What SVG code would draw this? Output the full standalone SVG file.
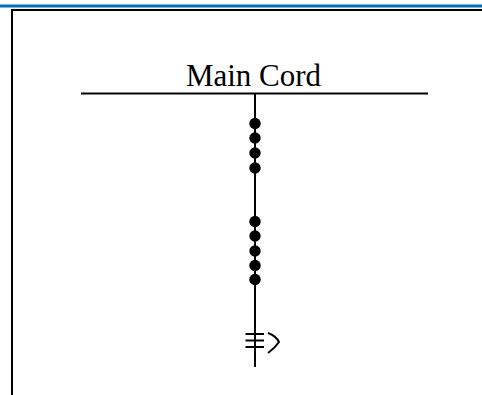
<svg xmlns="http://www.w3.org/2000/svg" width="482" height="395" viewBox="0 0 482 395">
<style>
.ln{stroke:#000;stroke-width:2;fill:none}
.dot{fill:#000}
.lbl{font-family:"Liberation Serif","Times New Roman",serif;font-size:31px;fill:#000}
</style>
<rect width="482" height="395" fill="#fff"/>
<line x1="0" y1="6" x2="482" y2="6" stroke="#0070c0" stroke-width="3"/>
<g id="frame">
<path class="ln" d="M12 395 V10 H482"/>
</g>
<g id="main-cord">
<line class="ln" x1="81" y1="93.5" x2="428" y2="93.5"/>
<text class="lbl" x="253.5" y="86" text-anchor="middle">Main Cord</text>
</g>
<g id="connectors">
<line class="ln" x1="255" y1="93.5" x2="255" y2="367"/>
</g>
<g id="knots-upper">
<circle class="dot" cx="255" cy="123.5" r="5.7"/>
<circle class="dot" cx="255" cy="138" r="5.7"/>
<circle class="dot" cx="255" cy="153" r="5.7"/>
<circle class="dot" cx="255" cy="168" r="5.7"/>
</g>
<g id="knots-lower">
<circle class="dot" cx="255" cy="221.5" r="5.7"/>
<circle class="dot" cx="255" cy="236" r="5.7"/>
<circle class="dot" cx="255" cy="251" r="5.7"/>
<circle class="dot" cx="255" cy="265.5" r="5.7"/>
<circle class="dot" cx="255" cy="279.5" r="5.7"/>
</g>
<g id="end-symbol">
<path class="ln" d="M245.5 334 H264 M245.5 340.5 H264 M245.5 347 H264" stroke-width="1.6"/>
<path class="ln" d="M268 333 Q276 336 279 342 Q275 348 268 353" stroke-width="1.6"/>
</g>
</svg>
